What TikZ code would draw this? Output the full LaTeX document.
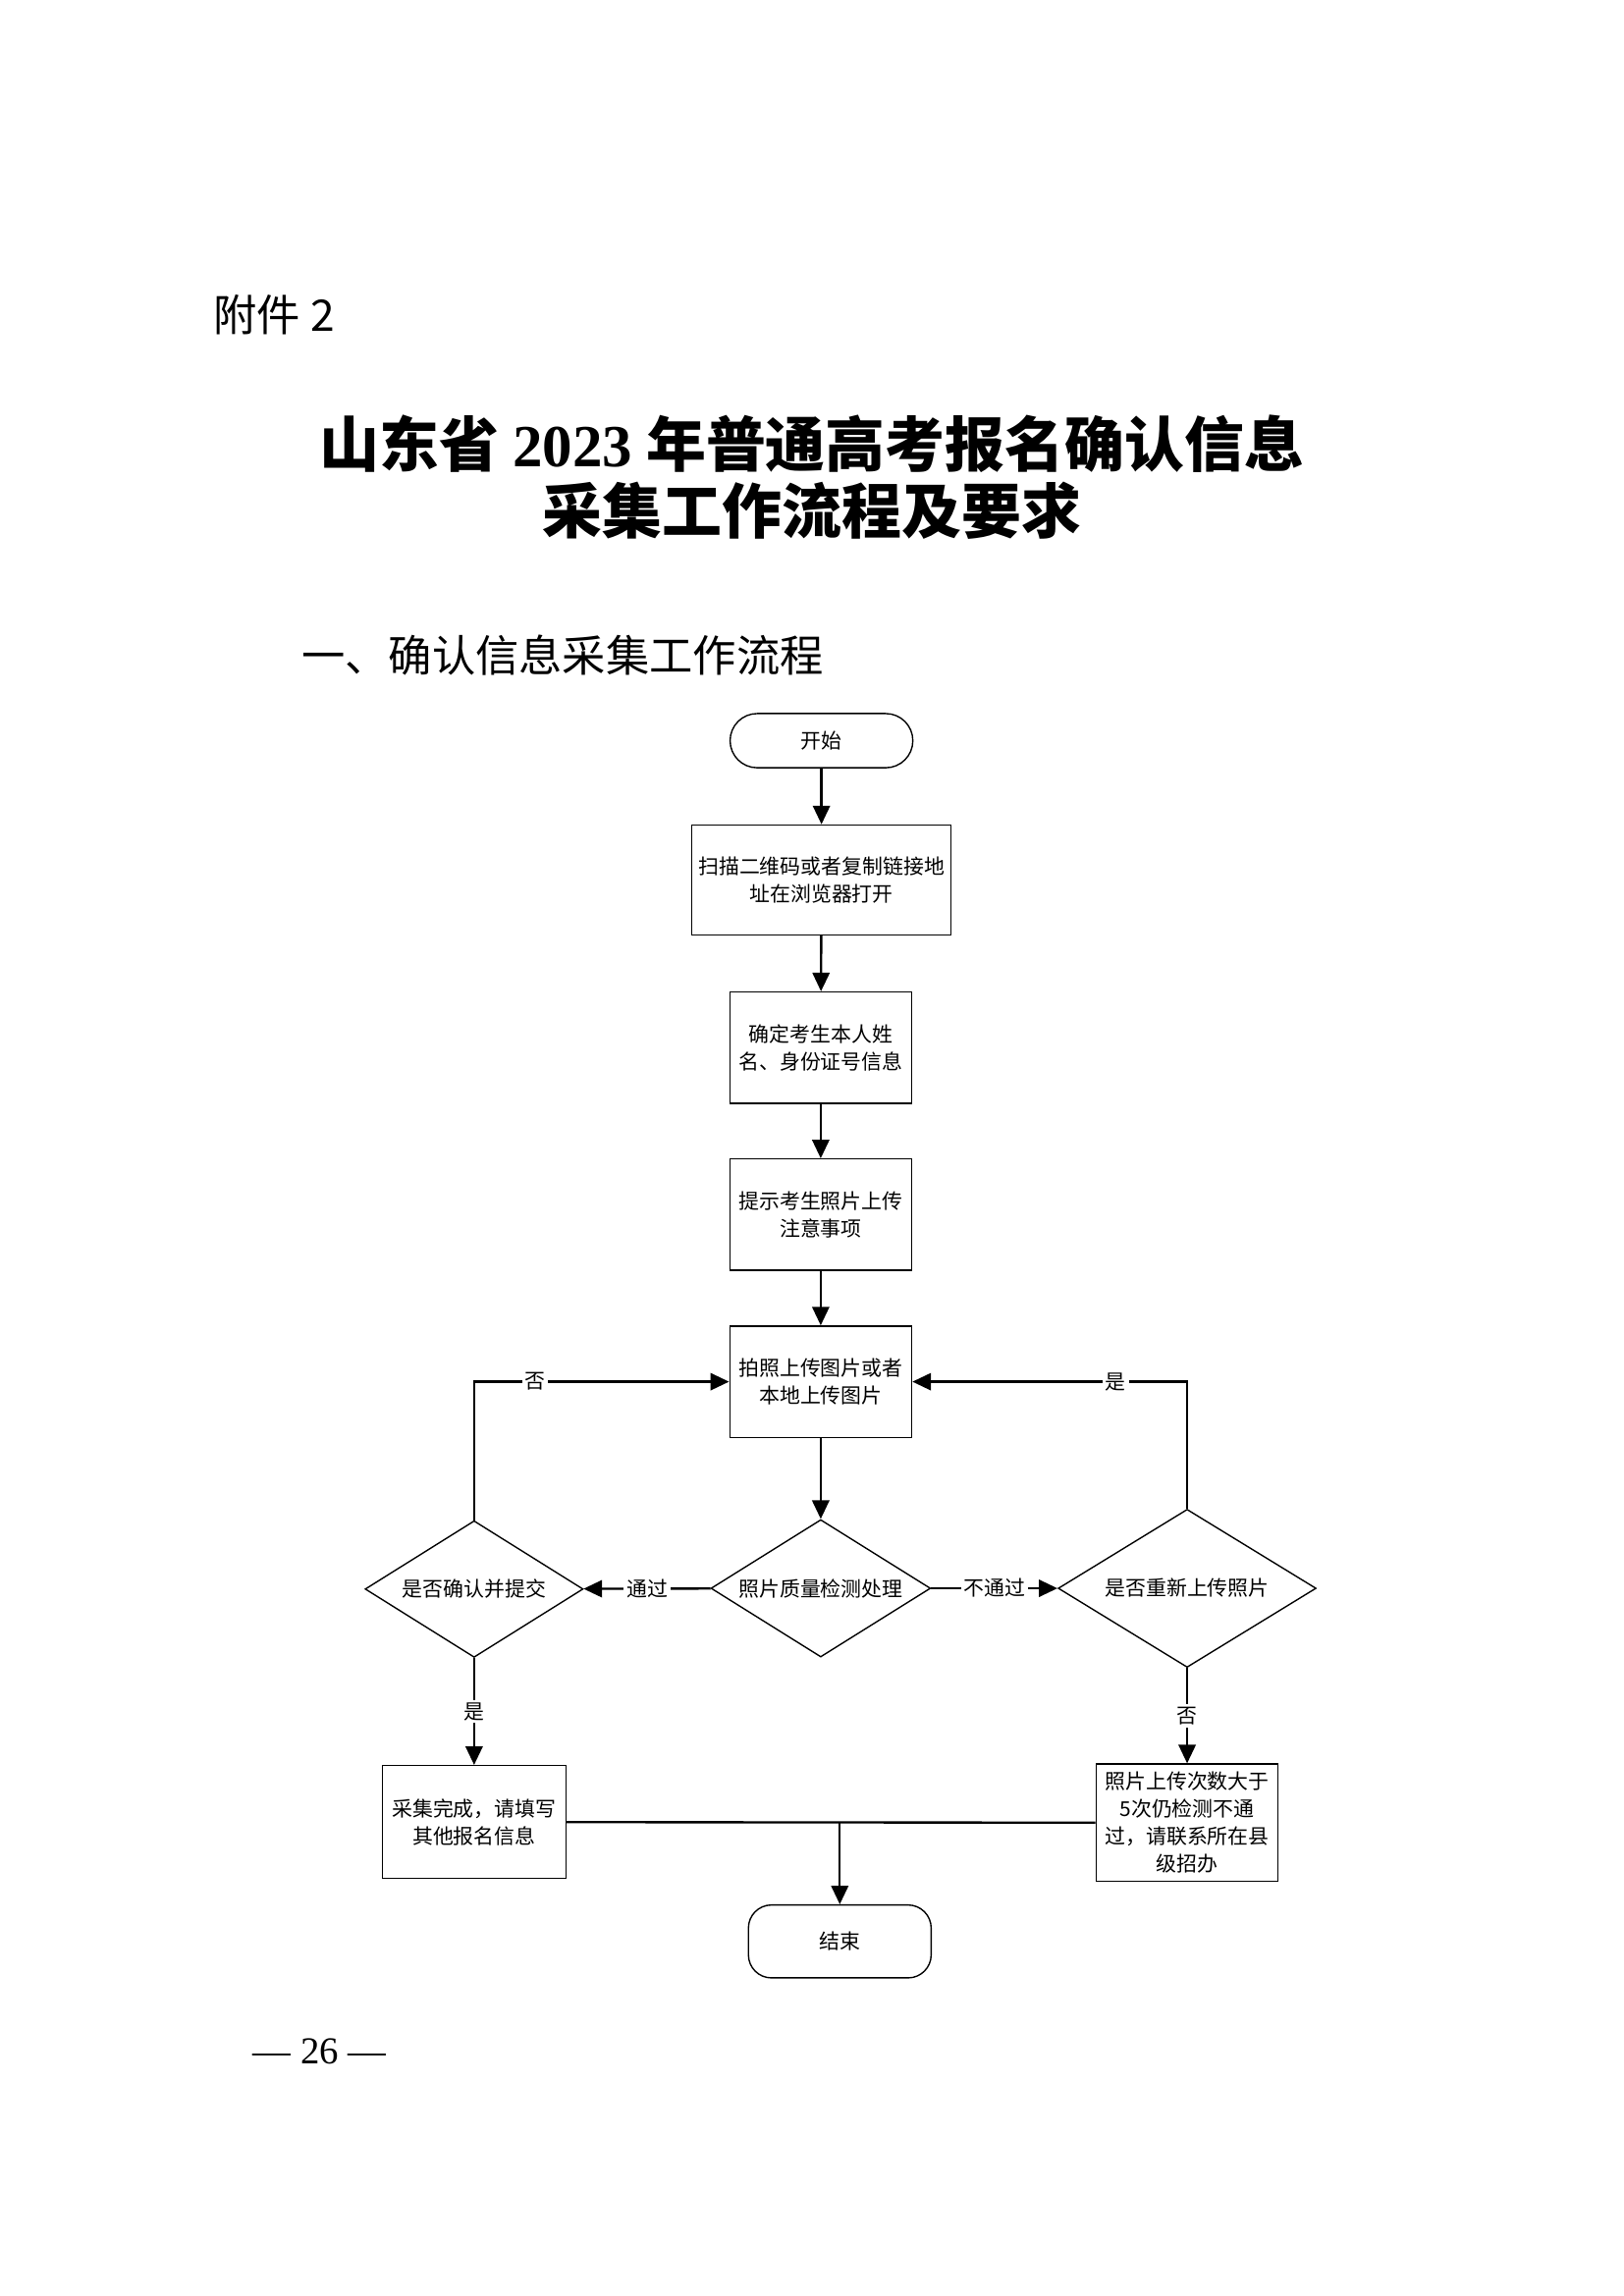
\documentclass[tikz,border=0pt]{standalone}
\usepackage{fontspec}
\setmainfont{Liberation Serif}
\newfontfamily\cjk{Noto Sans CJK SC}
\usepackage{tikz}
\usetikzlibrary{arrows.meta, shapes.geometric, positioning}
\tikzset{
  flownode/.style = {align=center, inner sep=0pt, text centered,
    font=\cjk\fontsize{7.55pt}{10.1pt}\selectfont},
  proc/.style = {flownode, rectangle, draw=black, line width=0.5pt,
    minimum width=23.53mm, minimum height=14.4mm},
  term/.style = {flownode, rectangle, draw=black, line width=0.5pt,
    minimum width=23.63mm},
  dec/.style = {flownode, diamond, draw=black, line width=0.5pt, aspect=1.6},
  lbl/.style = {flownode, fill=white, inner sep=1pt},
  pagetext/.style = {anchor=west, inner sep=0pt}
}
\begin{document}
\begin{tikzpicture}[x=0.189531mm, y=-0.189531mm, ->, >={Triangle[length=2.4mm,width=2.2mm]},
  line width=0.85pt]
\fill[white] (0,0) rectangle (1108,1567);
\useasboundingbox (0,0) rectangle (1108,1567);
\node[pagetext, font=\cjk\fontsize{16pt}{19pt}\selectfont] (annex) at (145,215) {附件 2};
\node[align=center, font=\cjk\bfseries\fontsize{22pt}{24.4pt}\selectfont] (title) at (554,325.5)
  {山东省 {\rmfamily 2023} 年普通高考报名确认信息\\采集工作流程及要求};
\node[pagetext, font=\cjk\fontsize{16pt}{19pt}\selectfont] (sect) at (205,447) {一、确认信息采集工作流程};
\node[pagetext, font=\rmfamily\fontsize{14pt}{16pt}\selectfont] (pagenum) at (172,1400) {— 26 —};

\node[term, rounded corners=3.5mm, minimum height=7.01mm] (start) at (560.5,505.5) {开始};
\node[proc, minimum width=33.56mm, minimum height=14.2mm] (scan) at (560.5,600.5) {扫描二维码或者复制链接地\\址在浏览器打开};
\node[proc] (ident) at (560,715) {确定考生本人姓\\名、身份证号信息};
\node[proc] (tips) at (560,829) {提示考生照片上传\\注意事项};
\node[proc] (upload) at (560,943) {拍照上传图片或者\\本地上传图片};
\node[dec, minimum width=28.4mm, minimum height=17.77mm] (check) at (560,1084) {照片质量检测处理};
\node[dec, minimum width=28.2mm, minimum height=17.67mm] (confirm) at (323.5,1084.5) {是否确认并提交};
\node[dec, minimum width=33.36mm, minimum height=20.45mm] (retry) at (810,1084) {是否重新上传照片};
\node[proc, minimum width=23.73mm, minimum height=14.6mm] (done) at (323.5,1243.5) {采集完成，请填写\\其他报名信息};
\node[proc, minimum height=15.19mm] (fail) at (810,1244) {照片上传次数大于\\5次仍检测不通\\过，请联系所在县\\级招办};
\node[term, rounded corners=2.98mm, minimum height=9.43mm] (finish) at (573,1325) {结束};
\coordinate (join) at (finish.north |- done.east);

\draw (start) -- (scan);
\draw (scan) -- (ident);
\draw (ident) -- (tips);
\draw (tips) -- (upload);
\draw (upload) -- (check);
\draw (check) -- node[lbl] {通过} (confirm);
\draw (check) -- node[lbl] {不通过} (retry);
\draw (confirm.north) |- node[lbl, pos=0.62] {否} (upload.west);
\draw (retry.north) |- node[lbl, pos=0.63] {是} (upload.east);
\draw (confirm) -- node[lbl] {是} (done);
\draw (retry) -- node[lbl] {否} (fail);
\draw[-] (done) -- (fail);
\draw (join) -- (finish);
\end{tikzpicture}
\end{document}
